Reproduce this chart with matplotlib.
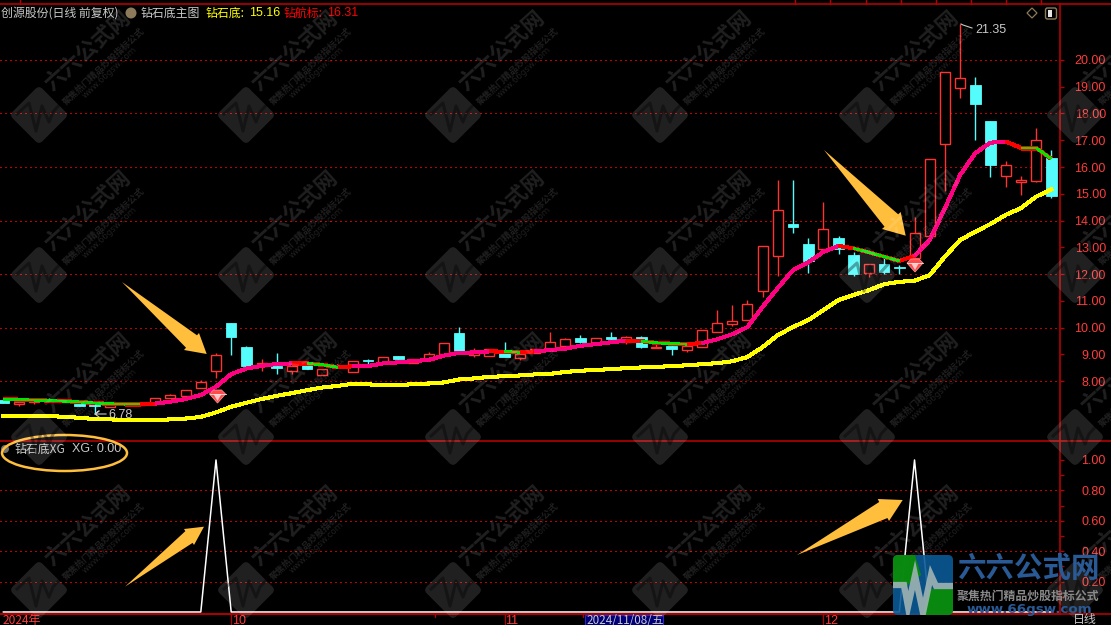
"""
Daily candlestick chart with the diamond-bottom indicator lines and the XG
signal pane below it. Dark terminal style, watermark on top.
"""

import matplotlib
matplotlib.use('Agg')
import matplotlib.pyplot as plt
from matplotlib.collections import LineCollection
from matplotlib.patches import Circle, Ellipse, FancyBboxPatch, Polygon, Rectangle
from matplotlib.transforms import Affine2D
import numpy as np


# ============================ Data ============================
open_prices = [
    7.31, 7.14, 7.22, 7.33, 7.22, 7.14, 7.09, 7.02, 7.19, 7.10,
    7.20, 7.38, 7.44, 7.76, 8.36, 10.17, 9.26, 8.57, 8.57, 8.39,
    8.60, 8.24, 8.53, 8.35, 8.77, 8.67, 8.93, 8.68, 8.79, 9.02,
    9.79, 8.98, 8.95, 9.05, 8.87, 9.04, 9.21, 9.32, 9.61, 9.43,
    9.65, 9.47, 9.64, 9.22, 9.33, 9.17, 9.28, 9.84, 10.14, 10.28,
    11.35, 12.66, 13.87, 13.12, 12.92, 13.35, 12.73, 12.05, 12.38, 12.26,
    12.61, 13.43, 16.85, 18.96, 19.07, 17.72, 15.65, 15.43, 15.49, 16.33,
]
close_prices = [
    7.20, 7.23, 7.29, 7.29, 7.29, 7.08, 7.07, 7.20, 7.15, 7.18,
    7.35, 7.47, 7.65, 7.95, 8.96, 9.66, 8.57, 8.66, 8.49, 8.57,
    8.45, 8.45, 8.49, 8.74, 8.75, 8.89, 8.82, 8.81, 9.00, 9.41,
    9.12, 9.11, 9.20, 8.90, 9.02, 9.19, 9.46, 9.56, 9.46, 9.60,
    9.57, 9.64, 9.28, 9.28, 9.20, 9.30, 9.90, 10.16, 10.23, 10.87,
    13.03, 14.38, 13.74, 12.50, 13.67, 12.92, 12.01, 12.36, 12.08, 12.24,
    13.52, 16.29, 19.54, 19.32, 18.36, 16.09, 16.06, 15.50, 17.02, 14.93,
]
high_prices = [
    7.31, 7.23, 7.33, 7.36, 7.29, 7.14, 7.18, 7.20, 7.22, 7.18,
    7.35, 7.50, 7.65, 8.04, 9.04, 10.17, 9.33, 8.81, 9.04, 8.57,
    8.60, 8.45, 8.64, 8.74, 8.82, 8.89, 8.93, 8.81, 9.08, 9.41,
    10.02, 9.23, 9.20, 9.46, 9.02, 9.19, 9.83, 9.62, 9.72, 9.60,
    9.83, 9.68, 9.69, 9.50, 9.46, 9.30, 9.90, 10.64, 10.84, 11.03,
    13.03, 15.51, 15.51, 13.35, 14.69, 13.43, 12.82, 12.36, 12.60, 12.33,
    14.14, 16.29, 19.54, 21.35, 19.36, 17.72, 16.21, 15.66, 17.46, 16.64,
]
low_prices = [
    7.20, 7.08, 7.15, 7.27, 7.22, 7.08, 6.78, 7.02, 7.11, 7.10,
    7.20, 7.38, 7.44, 7.76, 8.12, 8.97, 8.57, 8.39, 8.27, 8.27,
    8.45, 8.24, 8.49, 8.35, 8.60, 8.67, 8.75, 8.68, 8.79, 9.02,
    9.12, 8.90, 8.95, 8.90, 8.80, 9.04, 9.21, 9.32, 9.41, 9.43,
    9.50, 9.39, 9.24, 9.22, 8.98, 9.08, 9.28, 9.84, 10.06, 10.28,
    11.15, 11.93, 13.54, 12.05, 12.82, 12.74, 11.91, 11.89, 12.00, 12.00,
    12.61, 13.43, 15.11, 18.59, 17.01, 15.64, 15.26, 14.97, 15.43, 14.86,
]
# 钻航标 line, one value per candle
mark_line = [
    7.32, 7.31, 7.29, 7.27, 7.25, 7.22, 7.18, 7.15, 7.14, 7.14,
    7.16, 7.23, 7.33, 7.48, 7.79, 8.26, 8.47, 8.57, 8.64, 8.66,
    8.66, 8.61, 8.52, 8.55, 8.56, 8.66, 8.70, 8.75, 8.79, 8.95,
    9.06, 9.07, 9.11, 9.10, 9.08, 9.11, 9.16, 9.21, 9.32, 9.38,
    9.45, 9.51, 9.49, 9.43, 9.40, 9.38, 9.42, 9.56, 9.75, 10.02,
    10.78, 11.48, 12.15, 12.44, 12.83, 13.05, 12.96, 12.81, 12.65, 12.49,
    12.68, 13.27, 14.46, 15.70, 16.52, 16.91, 16.95, 16.72, 16.72, 16.31,
]
# state of each segment of mark_line: p rising, r turning, g falling
mark_states = ('g' * 9 + 'r' + 'p' * 9 + 'r' + 'gg' + 'r' + 'p' * 9 + 'r' + 'g' + 'r'
               + 'p' * 6 + 'r' + 'ggg' + 'r' + 'p' * 9 + 'r' + 'ggg' + 'r'
               + 'p' * 6 + 'r' + 'gg')
# 钻石底 line
base_line = [
    6.68, 6.69, 6.69, 6.70, 6.66, 6.63, 6.58, 6.57, 6.55, 6.53,
    6.54, 6.57, 6.60, 6.66, 6.83, 7.04, 7.19, 7.33, 7.45, 7.55,
    7.66, 7.76, 7.82, 7.90, 7.88, 7.84, 7.84, 7.89, 7.91, 7.95,
    8.06, 8.10, 8.16, 8.18, 8.21, 8.25, 8.27, 8.34, 8.39, 8.41,
    8.45, 8.48, 8.51, 8.53, 8.56, 8.59, 8.63, 8.67, 8.74, 8.90,
    9.27, 9.72, 10.02, 10.28, 10.65, 11.03, 11.22, 11.40, 11.62, 11.71,
    11.75, 11.96, 12.65, 13.27, 13.58, 13.87, 14.21, 14.46, 14.89, 15.16,
]
signal_days = [14, 60]
price_ticks = [8, 9, 10, 11, 12, 13, 14, 15, 16, 17, 18, 19, 20]
price_grid = [8, 10, 12, 14, 16, 18, 20]
signal_ticks = [0.2, 0.4, 0.6, 0.8, 1.0]
signal_minor = [0.1, 0.3, 0.5, 0.7, 0.9]
month_days = [15, 33, 54]
month_labels = ['10', '11', '12']

# ============================ Style ============================
W, H = 1111, 625
AXIS_RIGHT = 1060
PANE_TOP, PANE_SPLIT, PANE_BOTTOM = 3.5, 440.5, 613.5
XLIM = (-0.224, 69.58)
PRICE_LIM = (5.78, 22.11)
SIGNAL_LIM = (-0.01, 1.128)

BLACK = '#000000'
RED_AXIS = '#B40000'
RED_TEXT = '#FF3C3C'
RED_BAR = '#FF3232'
CYAN_BAR = '#54FCFC'
PINK = '#FF0080'
GREEN = '#00E600'
YELLOW = '#FFFF00'
GREY_TEXT = '#C8C8C8'
ORANGE = '#FFBE3C'
CJK = ['Noto Sans CJK SC', 'DejaVu Sans']
NUM = 'Liberation Sans'


def pane(fig, x0, y0, x1, y1, **kw):
    """Axes placed by pixel box, y measured from the top of the image."""
    ax = fig.add_axes([x0 / W, 1 - y1 / H, (x1 - x0) / W, (y1 - y0) / H], **kw)
    ax.set_facecolor(BLACK)
    return ax


def style_axis(ax):
    for side, spine in ax.spines.items():
        spine.set_visible(side == 'right')
        spine.set_color(RED_AXIS)
        spine.set_linewidth(1.2)
    ax.yaxis.tick_right()
    ax.set_xlim(*XLIM)


def draw_grid(ax, values):
    for v in values:
        ax.axhline(v, color='#C00000', lw=0.75, ls=(0, (1, 3)), antialiased=False, zorder=1)


def draw_candles(ax):
    opens = np.array(open_prices)
    closes = np.array(close_prices)
    highs = np.array(high_prices)
    lows = np.array(low_prices)
    days = np.arange(len(opens))
    up = closes >= opens
    tops = np.maximum(opens, closes)
    bottoms = np.minimum(opens, closes)

    ax.vlines(days[up], tops[up], highs[up], color=RED_BAR, lw=1.0, zorder=2)
    ax.vlines(days[up], lows[up], bottoms[up], color=RED_BAR, lw=1.0, zorder=2)
    ax.vlines(days[~up], lows[~up], highs[~up], color=CYAN_BAR, lw=1.0, zorder=2)
    ax.bar(days[up], (tops - bottoms)[up], bottom=bottoms[up], width=0.66,
           facecolor=BLACK, edgecolor=RED_BAR, linewidth=1.0, zorder=3)
    ax.bar(days[~up], (tops - bottoms)[~up], bottom=bottoms[~up], width=0.7,
           facecolor=CYAN_BAR, edgecolor=CYAN_BAR, linewidth=0.6, zorder=3)


def draw_lines(ax):
    days = np.arange(len(mark_line))
    points = np.column_stack([days, mark_line])
    segments = np.stack([points[:-1], points[1:]], axis=1)
    under = [PINK if s == 'p' else '#FF0000' for s in mark_states]
    ax.add_collection(LineCollection(segments, colors=under, linewidths=2.2,
                                     antialiaseds=False, zorder=5))
    green = [seg for seg, s in zip(segments, mark_states) if s == 'g']
    ax.add_collection(LineCollection(green, colors=GREEN, linewidths=1.3,
                                     antialiaseds=False, zorder=6))
    ax.plot(days, base_line, color=YELLOW, lw=2.2, antialiased=False, zorder=4)


def arrow(ax, tail, tip, wing_a, wing_b):
    """Tapered hand-drawn style arrow, everything in image pixels."""
    tail, tip, wing_a, wing_b = map(np.array, (tail, tip, wing_a, wing_b))
    mid = (wing_a + wing_b) / 2
    neck_a = wing_a + 0.27 * (mid - wing_a)
    neck_b = wing_b + 0.27 * (mid - wing_b)
    ax.add_patch(Polygon([tail, neck_a, wing_a, tip, wing_b, neck_b],
                         closed=True, facecolor=ORANGE, edgecolor='none', zorder=10))


def gem(ax, cx, cy):
    ax.add_patch(Polygon([(cx - 8, cy - 2), (cx - 4, cy - 6), (cx + 4, cy - 6), (cx + 8, cy - 2), (cx, cy + 7)],
                         closed=True, facecolor='#FF4B4B', edgecolor='#FF8C8C', lw=0.6, zorder=11))
    ax.add_patch(Polygon([(cx - 4, cy - 2), (cx + 4, cy - 2), (cx, cy + 5)],
                         closed=True, facecolor='#FFC8C8', edgecolor='none', zorder=12))
    ax.plot([cx - 8, cx + 8], [cy - 2, cy - 2], color='#FFE0E0', lw=0.6, zorder=12)


def watermark(ax, cx, cy):
    """One tile of the grey diagonal site watermark."""
    tone = (1, 1, 1, 0.13)
    rot = Affine2D().rotate_deg_around(cx, cy, 45) + ax.transData
    ax.add_patch(FancyBboxPatch((cx - 21, cy - 21), 42, 42, boxstyle='round,pad=0,rounding_size=5',
                                facecolor=tone, edgecolor='none', transform=rot, zorder=20))
    zx = [cx - 22, cx - 10, cx - 3, cx + 3, cx + 10, cx + 14, cx + 23]
    zy = [cy - 1, cy - 12, cy + 16, cy - 9, cy + 7, cy - 3, cy - 13]
    ax.plot(zx, zy, color=(0, 0, 0, 0.35), lw=2.2, zorder=21)
    ax.text(cx + 49, cy - 64, '六六公式网', family=CJK, fontsize=15.5, fontweight='bold', color=tone,
            rotation=42, rotation_mode='anchor', ha='center', va='center', zorder=21)
    ax.text(cx + 64, cy - 49, '聚焦热门精品炒股指标公式', family=CJK, fontsize=6.5, fontweight='bold', color=tone,
            rotation=43, rotation_mode='anchor', ha='center', va='center', zorder=21)
    ax.text(cx + 71, cy - 43, 'www.66gsw.com', family='DejaVu Sans', fontsize=6.2, color=tone,
            rotation=43, rotation_mode='anchor', ha='center', va='center', zorder=21)


def corner_logo(ax):
    x0, y0, size = 893, 555, 60
    clip = FancyBboxPatch((x0, y0), size, size, boxstyle='round,pad=0,rounding_size=5',
                          facecolor='#0A5A96', edgecolor='none', alpha=0.9, zorder=30)
    ax.add_patch(clip)
    for pts, col in (([(x0, y0), (x0 + 22, y0), (x0 + 28, y0 + 20), (x0 + 12, y0 + 32), (x0, y0 + 30)], '#0A8C0A'),
                     ([(x0 + 36, y0 + 34), (x0 + 60, y0 + 34), (x0 + 60, y0 + 60), (x0 + 30, y0 + 60)], '#0A8C0A')):
        patch = Polygon(pts, closed=True, facecolor=col, edgecolor='none', alpha=0.95, zorder=31)
        ax.add_patch(patch)
        patch.set_clip_path(clip)
    zx = [0, 11, 15, 22, 30, 38, 43, 60]
    zy = [30, 30, 52, 20, 58, 20, 31, 31]
    line, = ax.plot([x0 + v for v in zx], [y0 + v for v in zy], color='#A0B4B4', lw=4.5,
                    solid_joinstyle='miter', alpha=0.9, zorder=32)
    line.set_clip_path(clip)
    ax.text(957, 569, '六六公式网', family=CJK, fontsize=20.5, fontweight='bold', color='#2A5A96',
            va='center', ha='left', zorder=33)
    ax.text(957, 596, '聚焦热门精品炒股指标公式', family=CJK, fontsize=8.6, fontweight='bold', color='#8A8A8A',
            va='center', ha='left', zorder=33)
    ax.text(967, 610, 'www.66gsw.com', family='DejaVu Sans', fontsize=9.6, fontweight='bold', color='#2A5A96',
            va='center', ha='left', zorder=33)


def label(ax, x, y, text, color=GREY_TEXT, family=None, size=8.6, **kw):
    ax.text(x, y, text, color=color, family=family or CJK, fontsize=size,
            va='center', ha=kw.pop('ha', 'left'), zorder=9, **kw)


def draw_overlay(ax):
    ax.set_xlim(0, W)
    ax.set_ylim(H, 0)
    ax.axis('off')

    # frame lines that run past the price axis
    for y in (PANE_TOP, PANE_SPLIT, PANE_BOTTOM):
        ax.plot([0, W], [y, y], color=RED_AXIS, lw=1.2, zorder=2)
    ax.plot([20, 20], [0, PANE_TOP], color=RED_AXIS, lw=1.0, zorder=2)
    for x in np.arange(795.3, 1060, 35.1):
        ax.plot([x, x], [0, PANE_TOP], color=RED_AXIS, lw=1.0, zorder=2)
    for x in (435, 583):
        ax.plot([x, x], [PANE_BOTTOM, PANE_BOTTOM + 3], color=RED_AXIS, lw=0.9, zorder=2)

    # header texts
    label(ax, 1, 13, '创源股份(日线 前复权)')
    ax.add_patch(Circle((131, 13), 5.5, facecolor='#8C7A5A', edgecolor='none', zorder=9))
    label(ax, 141, 13, '钻石底主图')
    label(ax, 206, 13, '钻石底:', color=YELLOW, fontweight='medium')
    label(ax, 249, 13, '15.16', color=YELLOW, family=NUM, size=9)
    label(ax, 284, 13, '钻航标:', color='#FF0000', fontweight='medium')
    label(ax, 327, 13, '16.31', color='#FF0000', family=NUM, size=9)
    ax.add_patch(Circle((5, 449), 4, facecolor='#6E6E6E', edgecolor='none', zorder=9))
    label(ax, 15, 449.5, '钻石底XG')
    label(ax, 72, 449.5, 'XG: 0.00', family=NUM, size=9)

    # top right tool icons
    ax.add_patch(Polygon([(1032, 8), (1037, 13), (1032, 18), (1027, 13)], closed=True,
                         facecolor='none', edgecolor='#8C7A5A', lw=0.9, zorder=9))
    ax.add_patch(FancyBboxPatch((1045.5, 8), 11, 11, boxstyle='round,pad=0,rounding_size=2',
                                facecolor='none', edgecolor='#8C7A5A', lw=1.0, zorder=9))
    ax.add_patch(Rectangle((1048, 10), 4, 7, facecolor='#E6E6E6', edgecolor='none', zorder=9))

    # extreme price flags
    ax.plot([961, 963, 972], [24, 25, 28], color=GREY_TEXT, lw=0.8, zorder=9)
    label(ax, 975, 30, '21.35', family=NUM, size=9)
    ax.plot([106, 95, 99, 95, 99], [414, 414, 411, 414, 417], color=GREY_TEXT, lw=0.8, zorder=9)
    label(ax, 108, 415, '6.78', family=NUM, size=9)

    # bottom date strip
    label(ax, 3, 620.5, '2024年', color=RED_TEXT)
    for x, text in zip((232, 505, 824), month_labels):
        label(ax, x, 620.5, text, color=RED_TEXT, family=NUM, size=9)
    ax.add_patch(Rectangle((585, 614.5), 78, 11, facecolor='#000078', edgecolor='#2828C8', lw=0.8, zorder=8))
    label(ax, 586, 620.5, '2024/11/08/五', family=CJK, size=8.4)
    label(ax, 1073, 620, '日线')

    # annotations
    arrow(ax, (122, 282), (206.7, 354), (199, 333), (184, 350))
    arrow(ax, (824, 150), (905.7, 235.7), (900.7, 212), (882, 229))
    arrow(ax, (125, 586.7), (204, 526.7), (184, 529), (194, 545))
    arrow(ax, (797, 555), (902.7, 500), (877.7, 499), (889, 521))
    ax.add_patch(Ellipse((64.5, 453), 125, 36, facecolor='none', edgecolor=ORANGE, lw=1.8, zorder=10))
    gem(ax, 217.5, 396)
    gem(ax, 915, 265)

    for cy in (115, 275, 437, 590):
        for cx in (39, 246, 453, 660, 867, 1075):
            watermark(ax, cx, cy)
    corner_logo(ax)


# ============================ Main ============================
def main():
    fig = plt.figure(figsize=(W / 100, H / 100), dpi=100, facecolor=BLACK)

    ax_price = pane(fig, 0, PANE_TOP, AXIS_RIGHT, PANE_SPLIT)
    style_axis(ax_price)
    ax_price.set_ylim(*PRICE_LIM)
    ax_price.set_xticks([])
    ax_price.set_yticks(price_ticks)
    ax_price.set_yticklabels([f'{v:.2f}' for v in price_ticks], ha='right', family=NUM, fontsize=9, color=RED_TEXT)
    ax_price.tick_params(axis='y', length=3, width=0.9, color=RED_AXIS, pad=30)
    draw_grid(ax_price, price_grid)
    draw_candles(ax_price)
    draw_lines(ax_price)

    ax_signal = pane(fig, 0, PANE_SPLIT, AXIS_RIGHT, PANE_BOTTOM)
    style_axis(ax_signal)
    ax_signal.set_ylim(*SIGNAL_LIM)
    ax_signal.set_yticks(signal_ticks)
    ax_signal.set_yticklabels([f'{v:.2f}' for v in signal_ticks], ha='right', family=NUM, fontsize=9, color=RED_TEXT)
    ax_signal.set_yticks(signal_minor, minor=True)
    ax_signal.tick_params(axis='y', which='both', length=3, width=0.9, color=RED_AXIS, pad=30)
    ax_signal.set_xticks(month_days)
    ax_signal.set_xticklabels([])
    ax_signal.tick_params(axis='x', length=8.5, width=0.9, color=RED_AXIS, direction='out')
    ax_signal.spines['bottom'].set_visible(True)
    ax_signal.spines['bottom'].set_color(RED_AXIS)
    draw_grid(ax_signal, signal_ticks[:-1])
    xg = np.zeros(len(open_prices))
    xg[signal_days] = 1.0
    ax_signal.plot(np.arange(len(xg)), xg, color='white', lw=1.1, zorder=3, clip_on=False)

    ax_over = pane(fig, 0, 0, W, H)
    ax_over.patch.set_alpha(0)
    draw_overlay(ax_over)

    fig.savefig('out.png', dpi=100, facecolor=BLACK)
    plt.close(fig)


if __name__ == "__main__":
    main()
